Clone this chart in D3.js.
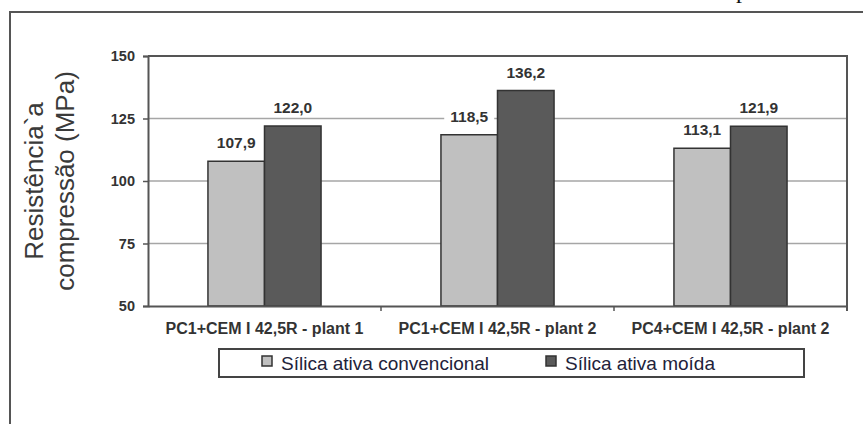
<!DOCTYPE html>
<html>
<head>
<meta charset="utf-8">
<script src="https://cdn.jsdelivr.net/npm/d3@7"></script>
<style>
  body { margin: 0; background: #fff; }
  svg { display: block; }
</style>
</head>
<body>
<div id="chart-area"></div>
<script>
// data
let categories = ["PC1+CEM I 42,5R - plant 1", "PC1+CEM I 42,5R - plant 2", "PC4+CEM I 42,5R - plant 2"];
let seriesNames = ["Sílica ativa convencional", "Sílica ativa moída"];
let convencional = [107.9, 118.5, 113.1];
let moida = [122.0, 136.2, 121.9];
let yTicks = [50, 75, 100, 125, 150];
let yTitleLines = ["Resistência`a", "compressão (MPa)"];

let seriesColors = ["#c0c0c0", "#5a5a5a"];

// set margins, width, height
let margin = {top: 56, right: 16, bottom: 118, left: 148};
let width = 863 - margin.left - margin.right;
let height = 424 - margin.top - margin.bottom;

let svgRoot = d3.select("#chart-area").append("svg")
    .attr("width", 863)
    .attr("height", 424);

// outer frame (runs off the right and bottom of the picture)
svgRoot.append("path")
    .attr("d", "M10,430 L10,12 L870,12")
    .attr("fill", "none")
    .attr("stroke", "#555")
    .attr("stroke-width", 2);

// bit of cut-off text above the frame
svgRoot.append("text")
    .attr("x", 736)
    .attr("y", -2)
    .style("font-family", "'Liberation Serif', serif")
    .style("font-size", "24px")
    .attr("fill", "#111")
    .text("p");

let svg = svgRoot.append("g")
    .attr("transform", "translate(" + margin.left + "," + margin.top + ")");

// scales
let y = d3.scaleLinear()
    .domain([50, 150])
    .range([height, 0]);

let x0 = d3.scaleBand()
    .domain(categories)
    .range([0, width])
    .padding(0);

let x1 = d3.scaleBand()
    .domain(seriesNames)
    .range([0, x0.bandwidth()])
    .paddingInner(0)
    .paddingOuter(1.06);

// gridlines
svg.selectAll(".grid")
    .data(yTicks.filter(d => d > 50 && d < 150))
    .enter().append("line")
    .attr("class", "grid")
    .attr("x1", 0)
    .attr("x2", width)
    .attr("y1", d => y(d))
    .attr("y2", d => y(d))
    .attr("stroke", "#a6a6a6")
    .attr("stroke-width", 1.5);

// group data
let rows = categories.map((c, i) => ({
    category: c,
    values: [
        {series: seriesNames[0], value: convencional[i]},
        {series: seriesNames[1], value: moida[i]}
    ]
}));

let color = d3.scaleOrdinal().domain(seriesNames).range(seriesColors);

let groups = svg.selectAll(".group")
    .data(rows)
    .enter().append("g")
    .attr("class", "group")
    .attr("transform", d => "translate(" + x0(d.category) + ",0)");

groups.selectAll("rect")
    .data(d => d.values)
    .enter().append("rect")
    .attr("x", d => x1(d.series))
    .attr("y", d => y(d.value))
    .attr("width", x1.bandwidth())
    .attr("height", d => height - y(d.value))
    .attr("fill", d => color(d.series))
    .attr("stroke", "#333")
    .attr("stroke-width", 1.5);

// value labels with white backing (they cut through the gridlines)
let fmt = v => d3.format(".1f")(v).replace(".", ",");

let labels = groups.selectAll(".val")
    .data(d => d.values)
    .enter().append("g")
    .attr("class", "val")
    .attr("transform", d => "translate(" + (x1(d.series) + x1.bandwidth() / 2) + "," + (y(d.value) - 13) + ")");

labels.append("rect")
    .attr("x", -25)
    .attr("y", -15)
    .attr("width", 50)
    .attr("height", 18)
    .attr("fill", "#fff");

labels.append("text")
    .attr("text-anchor", "middle")
    .style("font-family", "'Liberation Sans', Arial, sans-serif")
    .style("font-size", "15.5px")
    .style("font-weight", "bold")
    .attr("fill", "#333")
    .text(d => fmt(d.value));

// plot frame: top and right
svg.append("path")
    .attr("d", "M0,0 L" + width + ",0 L" + width + "," + (height + 5))
    .attr("fill", "none")
    .attr("stroke", "#555")
    .attr("stroke-width", 2);

// y axis
let yAxis = svg.append("g")
    .call(d3.axisLeft(y).tickValues(yTicks).tickSize(5).tickPadding(8));
yAxis.select(".domain").attr("stroke", "#555").attr("stroke-width", 2);
yAxis.selectAll(".tick line").attr("stroke", "#555").attr("stroke-width", 1.5);
yAxis.selectAll(".tick text")
    .style("font-family", "'Liberation Sans', Arial, sans-serif")
    .style("font-size", "14.5px")
    .style("font-weight", "bold")
    .attr("fill", "#333");

// x axis
let xAxis = svg.append("g")
    .attr("transform", "translate(0," + height + ")")
    .call(d3.axisBottom(x0).tickSize(0).tickPadding(17));
xAxis.select(".domain").attr("stroke", "#555").attr("stroke-width", 2);
xAxis.selectAll(".tick text")
    .style("font-family", "'Liberation Sans', Arial, sans-serif")
    .style("font-size", "16px")
    .style("font-weight", "bold")
    .attr("fill", "#333");

// category boundary ticks
svg.selectAll(".cat-tick")
    .data(categories.slice(1))
    .enter().append("line")
    .attr("class", "cat-tick")
    .attr("x1", d => x0(d))
    .attr("x2", d => x0(d))
    .attr("y1", height)
    .attr("y2", height + 5)
    .attr("stroke", "#555")
    .attr("stroke-width", 1.5);

// y title, two lines
svgRoot.selectAll(".ytitle")
    .data(yTitleLines)
    .enter().append("text")
    .attr("class", "ytitle")
    .attr("transform", (d, i) => "translate(" + (43 + i * 31) + "," + (margin.top + height / 2) + ") rotate(-90)")
    .attr("text-anchor", "middle")
    .style("font-family", "'Liberation Sans', Arial, sans-serif")
    .style("font-size", "26px")
    .attr("fill", "#3a3a3a")
    .text(d => d);

// legend
let legend = svgRoot.append("g");
legend.append("rect")
    .attr("x", 219)
    .attr("y", 349)
    .attr("width", 585)
    .attr("height", 28)
    .attr("fill", "#fff")
    .attr("stroke", "#444")
    .attr("stroke-width", 2);

let legendX = [262, 546];
let items = legend.selectAll(".item")
    .data(seriesNames)
    .enter().append("g")
    .attr("class", "item")
    .attr("transform", (d, i) => "translate(" + legendX[i] + ",356)");

items.append("rect")
    .attr("width", 10)
    .attr("height", 10)
    .attr("fill", d => color(d))
    .attr("stroke", "#333")
    .attr("stroke-width", 1.5);

items.append("text")
    .attr("x", 19)
    .attr("y", 14)
    .style("font-family", "'Liberation Sans', Arial, sans-serif")
    .style("font-size", "19px")
    .attr("fill", "#22223a")
    .text(d => d);
</script>
</body>
</html>
